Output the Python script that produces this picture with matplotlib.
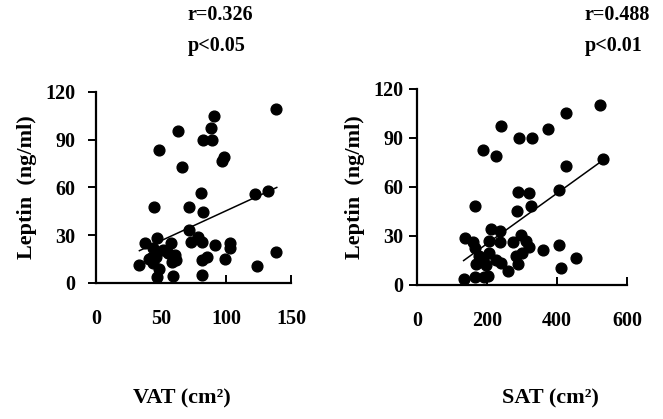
import matplotlib
matplotlib.use('Agg')
import matplotlib.pyplot as plt
import numpy as np

plt.rcParams['font.family'] = ['Liberation Serif', 'DejaVu Serif']
plt.rcParams['font.weight'] = 'bold'

# VAT vs leptin
vat_x = [138.5, 91, 88.7, 63.3, 82.3, 89.5, 48.7, 98.2, 97.2, 65.9,
         80.8, 122.3, 132.6, 44.9, 71.3, 82.6, 71.5, 46.7, 37.7, 57.4,
         73.1, 78.7, 81.5, 91.5, 103, 103, 33.3, 40.3, 44.1, 46.2,
         51.8, 58.2, 60.8, 61.5, 44.1, 48, 46.7, 59, 81.3, 81.3,
         85.6, 99.2, 124, 138.5, 55.5, 42.5]
vat_y = [109.2, 105, 97.3, 95.2, 90, 90, 83.2, 79, 76.7, 72.7,
         56.3, 55.5, 57.6, 47.9, 47.5, 44.7, 33.2, 27.9, 25.2, 25.2,
         25.8, 29, 25.8, 23.7, 25.2, 22, 11.1, 14.7, 21.6, 16.4,
         20.6, 13.2, 17.4, 14.3, 12.2, 8.4, 3.8, 4.2, 4.8, 14.3,
         16, 14.9, 10.5, 19.1, 18.5, 15.5]
vat_fit_x = [33.3, 139]
vat_fit_y = [20.2, 59.9]

# SAT vs leptin
sat_x = [521, 425, 241, 374, 290, 329, 187, 225, 531, 425,
         404, 287, 321, 165, 324, 285, 211, 237, 137, 160,
         206, 236, 274, 297, 311, 321, 359, 406, 412, 454,
         165, 167, 165, 133, 191, 204, 188, 206, 225, 239,
         261, 283, 287, 300, 178, 196]
sat_y = [109.8, 105.3, 97.1, 95.7, 90.2, 90.2, 82.8, 78.7, 77.3, 73,
         58.3, 56.9, 56.2, 48.5, 48.1, 45.4, 34.2, 32.7, 28.6, 26,
         26.6, 26, 26, 30.7, 26.6, 23.1, 21.1, 24.5, 10.6, 16.4,
         22.5, 12.9, 5.1, 3.7, 5.1, 5.5, 15.7, 19.4, 15.3, 13.3,
         8.8, 17.4, 12.9, 19.4, 18, 12]
sat_fit_x = [133, 537]
sat_fit_y = [14.9, 77.3]

panels = [
    dict(x=vat_x, y=vat_y, fx=vat_fit_x, fy=vat_fit_y, xmax=150, xticks=[0, 50, 100, 150],
         rect=[0.145, 0.325, 0.294, 0.456], xlabel='VAT (cm²)', xlab_x=0.275,
         r='r=0.326', p='p<0.05', stat_x=0.283, ypad=9),
    dict(x=sat_x, y=sat_y, fx=sat_fit_x, fy=sat_fit_y, xmax=600, xticks=[0, 200, 400, 600],
         rect=[0.629, 0.320, 0.317, 0.468], xlabel='SAT (cm²)', xlab_x=0.83,
         r='r=0.488', p='p<0.01', stat_x=0.882, ypad=4),
]

fig = plt.figure(figsize=(6.63, 4.19), dpi=100)

for p in panels:
    ax = fig.add_axes(p['rect'])
    ax.scatter(p['x'], p['y'], s=60, color='black', zorder=3, clip_on=False)
    ax.plot(p['fx'], p['fy'], color='black', linewidth=1.1)
    ax.set_xlim(0, p['xmax'])
    ax.set_ylim(0, 120)
    ax.set_xticks(p['xticks'])
    ax.set_yticks([0, 30, 60, 90, 120])
    for s in ['top', 'right']:
        ax.spines[s].set_visible(False)
    ax.spines['left'].set_linewidth(1.6)
    ax.spines['bottom'].set_linewidth(1.6)
    ax.tick_params(axis='x', direction='in', length=6, width=1.4, pad=19, labelsize=14.5)
    ax.tick_params(axis='y', direction='out', length=6, width=1.4, pad=p['ypad'], labelsize=14.5)
    for lab in ax.get_xticklabels() + ax.get_yticklabels():
        lab.set_fontweight('bold')
    ax.set_ylabel('Leptin  (ng/ml)', fontsize=16, fontweight='bold', labelpad=6)
    fig.text(p['xlab_x'], 0.05, p['xlabel'], ha='center', va='center',
             fontsize=16, fontweight='bold')
    fig.text(p['stat_x'], 0.965, p['r'], ha='left', va='center', fontsize=14.5, fontweight='bold')
    fig.text(p['stat_x'], 0.89, p['p'], ha='left', va='center', fontsize=14.5, fontweight='bold')

fig.savefig('out.png', dpi=100)
